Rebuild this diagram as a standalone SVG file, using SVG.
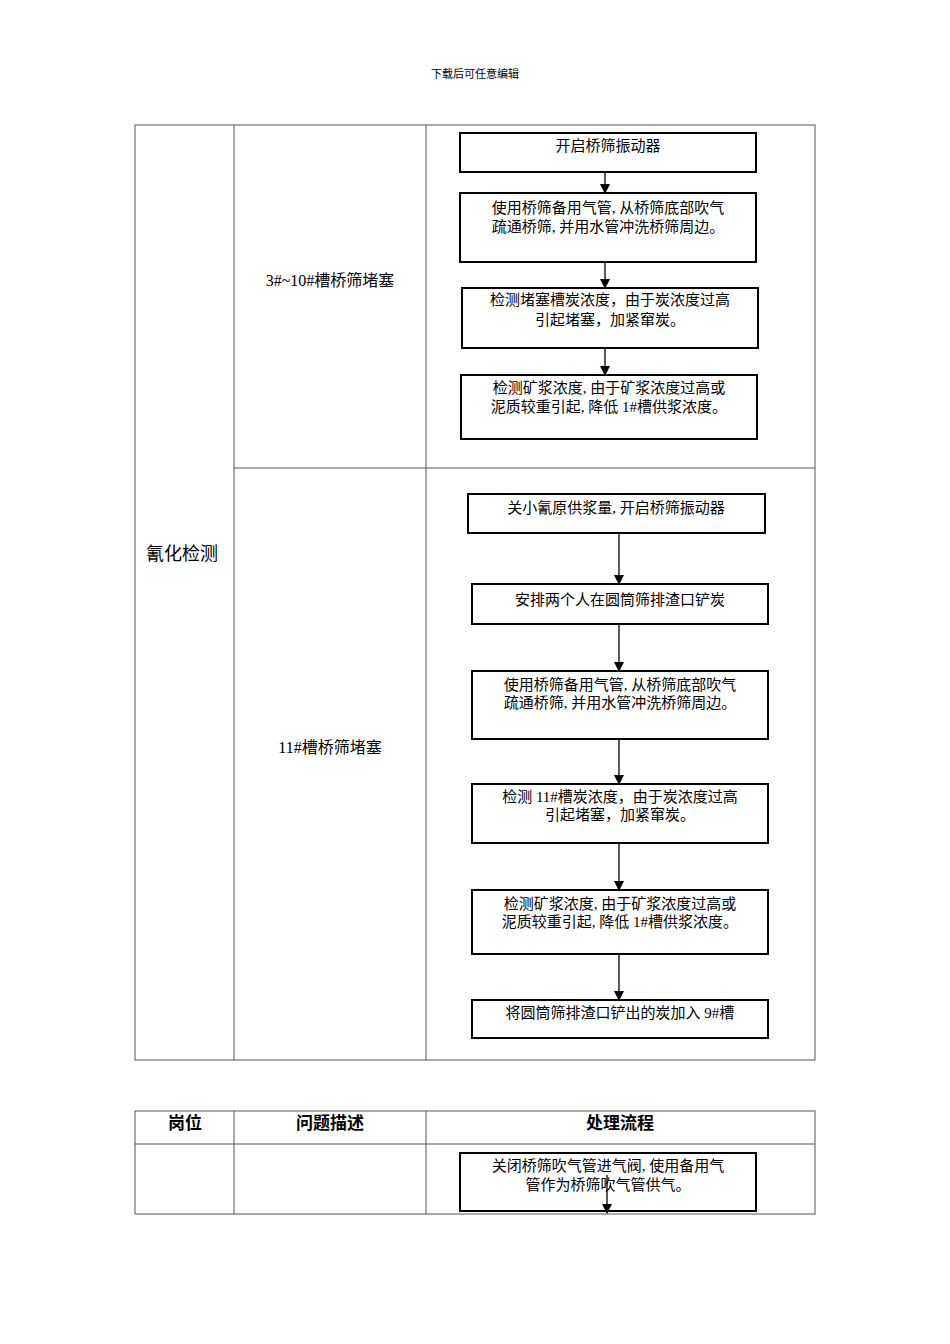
<svg xmlns="http://www.w3.org/2000/svg" width="950" height="1344" viewBox="0 0 950 1344">
<style>
text{font-family:"Liberation Serif","Noto Sans CJK SC",serif;font-size:15px;fill:#000;text-anchor:middle;dominant-baseline:middle}
.b{font-family:"Liberation Sans","Noto Sans CJK SC",sans-serif;font-weight:bold;font-size:17px}
.g{fill:none;stroke:#555;stroke-width:1}
.n rect{fill:#fff;stroke:#000;stroke-width:2}
.c line{stroke:#000;stroke-width:1.3;marker-end:url(#a)}
</style>
<defs><marker id="a" markerWidth="10" markerHeight="10" refX="9" refY="5" orient="auto" markerUnits="userSpaceOnUse"><path d="M0,0L10,5L0,10z" fill="#000"/></marker></defs>
<rect width="950" height="1344" fill="#fff"/>
<text x="475" y="75" style="font-size:11px">下载后可任意编辑</text>
<g id="table1" class="g"><rect x="135" y="125" width="680" height="935"/><line x1="234" y1="125" x2="234" y2="1060"/><line x1="426" y1="125" x2="426" y2="1060"/><line x1="234" y1="468" x2="815" y2="468"/></g>
<text x="182" y="556" style="font-size:18px">氰化检测</text>
<text x="330" y="282" style="font-size:16px">3#~10#槽桥筛堵塞</text>
<text x="330" y="749" style="font-size:16px">11#槽桥筛堵塞</text>
<g class="c" id="connectors">
<line x1="605" y1="172" x2="605" y2="193"/><line x1="605" y1="262" x2="605" y2="288"/><line x1="605" y1="348" x2="605" y2="375"/>
<line x1="619" y1="533" x2="619" y2="584"/><line x1="619" y1="624" x2="619" y2="671"/><line x1="619" y1="739" x2="619" y2="784"/><line x1="619" y1="843" x2="619" y2="890"/><line x1="619" y1="954" x2="619" y2="1000"/>
</g>
<g class="n" id="u1"><rect x="460" y="133" width="296" height="39"/><text x="608" y="148">开启桥筛振动器</text></g>
<g class="n" id="u2"><rect x="460" y="193" width="296" height="69"/><text x="608" y="210">使用桥筛备用气管, 从桥筛底部吹气</text><text x="608" y="229">疏通桥筛, 并用水管冲洗桥筛周边。</text></g>
<g class="n" id="u3"><rect x="462" y="288" width="296" height="60"/><text x="610" y="302">检测堵塞槽炭浓度，由于炭浓度过高</text><text x="610" y="322">引起堵塞，加紧窜炭。</text></g>
<g class="n" id="u4"><rect x="461" y="375" width="296" height="64"/><text x="609" y="390">检测矿浆浓度, 由于矿浆浓度过高或</text><text x="609" y="409">泥质较重引起, 降低 1#槽供浆浓度。</text></g>
<g class="n" id="l1"><rect x="468" y="494" width="297" height="39"/><text x="616" y="510">关小氰原供浆量, 开启桥筛振动器</text></g>
<g class="n" id="l2"><rect x="472" y="584" width="296" height="40"/><text x="620" y="602">安排两个人在圆筒筛排渣口铲炭</text></g>
<g class="n" id="l3"><rect x="472" y="671" width="296" height="68"/><text x="620" y="687">使用桥筛备用气管, 从桥筛底部吹气</text><text x="620" y="705">疏通桥筛, 并用水管冲洗桥筛周边。</text></g>
<g class="n" id="l4"><rect x="472" y="784" width="296" height="59"/><text x="620" y="799">检测 11#槽炭浓度，由于炭浓度过高</text><text x="620" y="817">引起堵塞，加紧窜炭。</text></g>
<g class="n" id="l5"><rect x="472" y="890" width="296" height="64"/><text x="620" y="906">检测矿浆浓度, 由于矿浆浓度过高或</text><text x="620" y="924">泥质较重引起, 降低 1#槽供浆浓度。</text></g>
<g class="n" id="l6"><rect x="472" y="1000" width="296" height="38"/><text x="620" y="1015">将圆筒筛排渣口铲出的炭加入 9#槽</text></g>
<g id="table2" class="g"><rect x="135" y="1111" width="680" height="103"/><line x1="135" y1="1144" x2="815" y2="1144"/><line x1="234" y1="1111" x2="234" y2="1214"/><line x1="426" y1="1111" x2="426" y2="1214"/></g>
<text class="b" x="185" y="1125">岗位</text><text class="b" x="330" y="1125">问题描述</text><text class="b" x="620" y="1125">处理流程</text>
<g class="n" id="t2box"><rect x="460" y="1153" width="296" height="58"/><text x="608" y="1168">关闭桥筛吹气管进气阀, 使用备用气</text><text x="608" y="1187">管作为桥筛吹气管供气。</text></g>
<g class="c"><line x1="607" y1="1175" x2="607" y2="1213"/></g>
</svg>
